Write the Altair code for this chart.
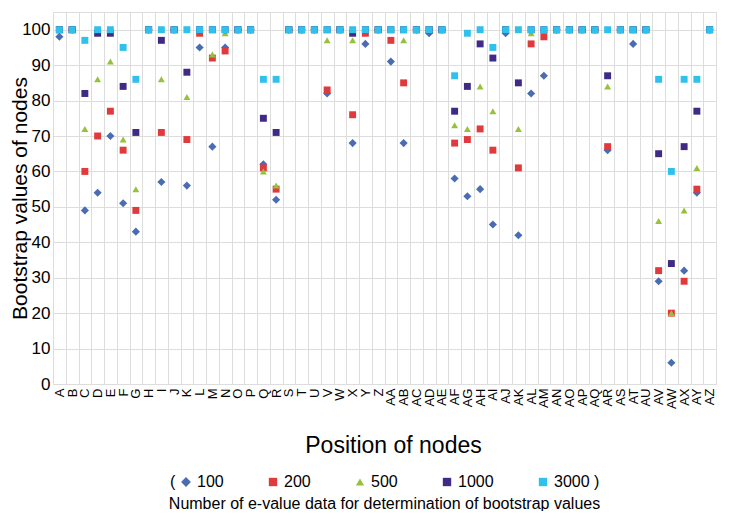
import altair as alt
import pandas as pd

# Categories (node positions)
cats = ["A", "B", "C", "D", "E", "F", "G", "H", "I", "J", "K", "L", "M", "N", "O", "P", "Q", "R", "S", "T", "U", "V", "W", "X", "Y", "Z",
        "AA", "AB", "AC", "AD", "AE", "AF", "AG", "AH", "AI", "AJ", "AK", "AL", "AM", "AN", "AO", "AP", "AQ", "AR", "AS", "AT", "AU", "AV", "AW", "AX", "AY", "AZ"]

series = ["100", "200", "500", "1000", "3000"]

v100 = [98, 100, 49, 54, 70, 51, 43, 100, 57, 100, 56, 95, 67, 95, 100, 100, 62, 52, 100, 100, 100, 82, 100, 68, 96, 100,
        91, 68, 100, 99, 100, 58, 53, 55, 45, 99, 42, 82, 87, 100, 100, 100, 100, 66, 100, 96, 100, 29, 6, 32, 54, 100]
v200 = [100, 100, 60, 70, 77, 66, 49, 100, 71, 100, 69, 99, 92, 94, 100, 100, 61, 55, 100, 100, 100, 83, 100, 76, 99, 100,
        97, 85, 100, 100, 100, 68, 69, 72, 66, 100, 61, 96, 98, 100, 100, 100, 100, 67, 100, 100, 100, 32, 20, 29, 55, 100]
v500 = [100, 100, 72, 86, 91, 69, 55, 100, 86, 100, 81, 100, 93, 99, 100, 100, 60, 56, 100, 100, 100, 97, 100, 97, 100, 100,
        100, 97, 100, 100, 100, 73, 72, 84, 77, 100, 72, 99, 100, 100, 100, 100, 100, 84, 100, 100, 100, 46, 20, 49, 61, 100]
v1000 = [100, 100, 82, 99, 99, 84, 71, 100, 97, 100, 88, 100, 100, 100, 100, 100, 75, 71, 100, 100, 100, 100, 100, 99, 100, 100,
         100, 100, 100, 100, 100, 77, 84, 96, 92, 100, 85, 100, 100, 100, 100, 100, 100, 87, 100, 100, 100, 65, 34, 67, 77, 100]
v3000 = [100, 100, 97, 100, 100, 95, 86, 100, 100, 100, 100, 100, 100, 100, 100, 100, 86, 86, 100, 100, 100, 100, 100, 100, 100, 100,
         100, 100, 100, 100, 100, 87, 99, 100, 95, 100, 100, 100, 100, 100, 100, 100, 100, 100, 100, 100, 100, 86, 60, 86, 86, 100]

colors = ["#4a6cb3", "#e13a3c", "#97c13d", "#3f2a86", "#2fc0ec"]
# slightly enlarged diamond path, then square, triangle, square, square
shapes = ["M-1.17,0L0,-1.17L1.17,0L0,1.17Z", "square", "triangle-up", "square", "square"]

rows = []
for k, (s, vals) in enumerate(zip(series, [v100, v200, v500, v1000, v3000])):
    for c, v in zip(cats, vals):
        rows.append({"cat": c, "series": s, "value": v, "ord": k})
df = pd.DataFrame(rows)

FONT = "Liberation Sans"

legend = alt.Legend(
    orient="none", legendX=117, legendY=462, direction="horizontal",
    title="(", titleOrient="left", titleFontSize=16, titleFontWeight="normal",
    titleFont=FONT, titleColor="black", titlePadding=2, titleBaseline="middle",
    labelFont=FONT, labelFontSize=16, labelColor="black", labelOffset=3,
    columnPadding=41, symbolSize=70, symbolStrokeWidth=0, padding=0,
    labelExpr="datum.label == '3000' ? '3000 )' : datum.label",
)

chart = alt.Chart(df).mark_point(filled=True, size=48, opacity=1).encode(
    x=alt.X("cat:N", sort=cats,
            scale=alt.Scale(type="band", paddingInner=0, paddingOuter=0),
            axis=alt.Axis(title="Position of nodes", labelAngle=270, labelFontSize=13,
                          labelFont=FONT, labelColor="black", labelPadding=4,
                          ticks=False, domain=False, grid=True, tickBand="extent",
                          titleFont=FONT, titleFontSize=23, titleFontWeight="normal",
                          titleColor="black", titleY=61, titleX=340, titleBaseline="middle")),
    y=alt.Y("value:Q", scale=alt.Scale(domain=[0, 105], nice=False, zero=False),
            axis=alt.Axis(title="Bootstrap values of nodes", values=list(range(0, 101, 10)),
                          labelFont=FONT, labelFontSize=17, labelColor="black", labelPadding=3,
                          ticks=False, domain=False, grid=True,
                          titleFont=FONT, titleFontSize=21, titleFontWeight="normal",
                          titleColor="black", titleX=-33, titleBaseline="middle")),
    color=alt.Color("series:N", sort=series, scale=alt.Scale(domain=series, range=colors), legend=legend),
    shape=alt.Shape("series:N", sort=series, scale=alt.Scale(domain=series, range=shapes), legend=legend),
    order=alt.Order("ord:Q"),
).properties(
    width=663, height=372,
    title=alt.TitleParams("Number of e-value data for determination of bootstrap values",
                          orient="bottom", fontSize=16, fontWeight="normal", font=FONT,
                          color="black", anchor="middle", offset=6),
    autosize=alt.AutoSizeParams(type="none"),
    padding={"left": 45, "top": 4, "right": 5, "bottom": 127},
).configure_view(
    stroke="black", strokeWidth=2
).configure_axis(
    gridColor="#a9a9a9", gridWidth=1, gridOpacity=1
).configure(background="white")

chart.save("out.html", embed_options={"renderer": "svg", "actions": False})
